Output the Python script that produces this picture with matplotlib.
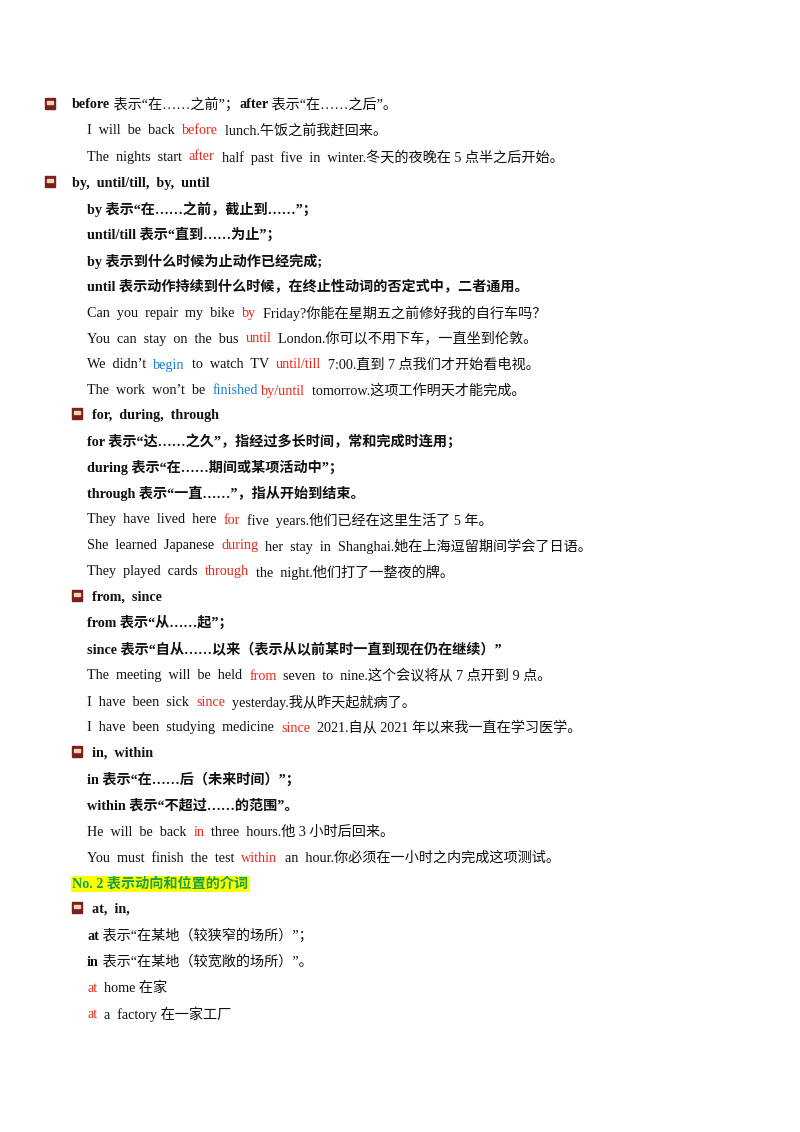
import matplotlib
matplotlib.use("Agg")
import matplotlib.pyplot as plt
from matplotlib.patches import Rectangle

R, B, K, G = "#e8271c", "#1a7fd4", "#111111", "#19a04b"
FAM = ["Liberation Serif", "Noto Sans CJK SC"]

# (y_px, icon_x or None, text_x, highlight, [(text, color, bold), ...])
lines = [
    (104, 50, 72, False, [("before", K, True), (" 表示“在……之前”；", K, False), ("after", K, True), (" 表示“在……之后”。", K, False)]),
    (130, None, 87, False, [("I  will  be  back  ", K, False), ("before", R, False), ("  lunch.午饭之前我赶回来。", K, False)]),
    (156, None, 87, False, [("The  nights  start  ", K, False), ("after", R, False), ("  half  past  five  in  winter.冬天的夜晚在 5 点半之后开始。", K, False)]),
    (182, 50, 72, False, [("by,  until/till,  by,  until", K, True)]),
    (208, None, 87, False, [("by 表示“在……之前，截止到……”；", K, True)]),
    (234, None, 87, False, [("until/till 表示“直到……为止”；", K, True)]),
    (260, None, 87, False, [("by 表示到什么时候为止动作已经完成;", K, True)]),
    (286, None, 87, False, [("until 表示动作持续到什么时候，在终止性动词的否定式中，二者通用。", K, True)]),
    (312, None, 87, False, [("Can  you  repair  my  bike  ", K, False), ("by", R, False), ("  Friday?你能在星期五之前修好我的自行车吗？", K, False)]),
    (338, None, 87, False, [("You  can  stay  on  the  bus  ", K, False), ("until", R, False), ("  London.你可以不用下车，一直坐到伦敦。", K, False)]),
    (364, None, 87, False, [("We  didn’t  ", K, False), ("begin", B, False), ("  to  watch  TV  ", K, False), ("until/till", R, False), ("  7:00.直到 7 点我们才开始看电视。", K, False)]),
    (390, None, 87, False, [("The  work  won’t  be  ", K, False), ("finished", B, False), (" ", K, False), ("by/until", R, False), ("  tomorrow.这项工作明天才能完成。", K, False)]),
    (414, 77, 92, False, [("for,  during,  through", K, True)]),
    (440, None, 87, False, [("for 表示“达……之久”，指经过多长时间，常和完成时连用；", K, True)]),
    (466, None, 87, False, [("during 表示“在……期间或某项活动中”；", K, True)]),
    (492, None, 87, False, [("through 表示“一直……”，指从开始到结束。", K, True)]),
    (519, None, 87, False, [("They  have  lived  here  ", K, False), ("for", R, False), ("  five  years.他们已经在这里生活了 5 年。", K, False)]),
    (545, None, 87, False, [("She  learned  Japanese  ", K, False), ("during", R, False), ("  her  stay  in  Shanghai.她在上海逗留期间学会了日语。", K, False)]),
    (571, None, 87, False, [("They  played  cards  ", K, False), ("through", R, False), ("  the  night.他们打了一整夜的牌。", K, False)]),
    (596, 77, 92, False, [("from,  since", K, True)]),
    (622, None, 87, False, [("from 表示“从……起”；", K, True)]),
    (648, None, 87, False, [("since 表示“自从……以来（表示从以前某时一直到现在仍在继续）”", K, True)]),
    (675, None, 87, False, [("The  meeting  will  be  held  ", K, False), ("from", R, False), ("  seven  to  nine.这个会议将从 7 点开到 9 点。", K, False)]),
    (701, None, 87, False, [("I  have  been  sick  ", K, False), ("since", R, False), ("  yesterday.我从昨天起就病了。", K, False)]),
    (727, None, 87, False, [("I  have  been  studying  medicine  ", K, False), ("since", R, False), ("  2021.自从 2021 年以来我一直在学习医学。", K, False)]),
    (752, 77, 92, False, [("in,  within", K, True)]),
    (779, None, 87, False, [("in 表示“在……后（未来时间）”；", K, True)]),
    (805, None, 87, False, [("within 表示“不超过……的范围”。", K, True)]),
    (831, None, 87, False, [("He  will  be  back  ", K, False), ("in", R, False), ("  three  hours.他 3 小时后回来。", K, False)]),
    (857, None, 87, False, [("You  must  finish  the  test  ", K, False), ("within", R, False), ("  an  hour.你必须在一小时之内完成这项测试。", K, False)]),
    (883, None, 72, True, [("No. 2 表示动向和位置的介词", G, True)]),
    (908, 77, 92, False, [("at,  in,", K, True)]),
    (935, None, 87, False, [("at", K, True), (" 表示“在某地（较狭窄的场所）”；", K, False)]),
    (961, None, 87, False, [("in", K, True), (" 表示“在某地（较宽敞的场所）”。", K, False)]),
    (987, None, 87, False, [("at", R, False), ("  home 在家", K, False)]),
    (1013, None, 87, False, [("at", R, False), ("  a  factory 在一家工厂", K, False)]),
]

W, H = 800, 1132
fig = plt.figure(figsize=(8, 11.32), dpi=100)
ax = fig.add_axes([0, 0, 1, 1])
ax.set_xlim(0, W); ax.set_ylim(H, 0); ax.axis("off")
fig.canvas.draw()
r = fig.canvas.get_renderer()

for y, ix, tx, hl, segs in lines:
    if ix is not None:
        ax.add_patch(Rectangle((ix - 5, y - 6), 10, 11, color="#7a1f1f", zorder=2))
        ax.add_patch(Rectangle((ix - 3, y - 3), 6, 3, color="#f2d0b0", zorder=3))
    x = tx
    for text, col, bold in segs:
        t = ax.text(x, y + 1, text, color=col, fontsize=10.2, family=FAM,
                    fontweight="bold" if bold else "normal", va="center", ha="left",
                    bbox=dict(facecolor="#ffff00", edgecolor="none", pad=1) if hl else None)
        bb = t.get_window_extent(renderer=r)
        x += bb.width * W / fig.bbox.width

fig.savefig("out.png", dpi=100)
